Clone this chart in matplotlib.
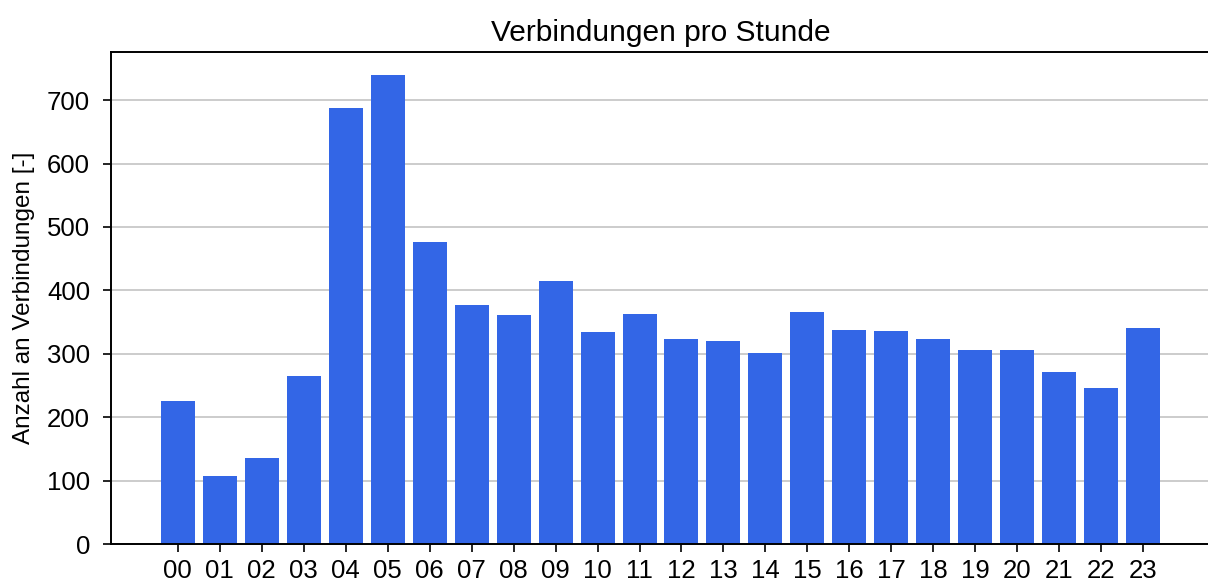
import matplotlib
matplotlib.use("Agg")
import numpy as np
import matplotlib.pyplot as plt

# ---------- data ----------
HOURS = [f"{h:02d}" for h in range(24)]
COUNTS = [226, 107, 136, 265, 688, 740, 477, 377, 361, 415, 334, 363,
          323, 320, 301, 366, 338, 336, 323, 306, 306, 271, 246, 341]
YTICKS = [0, 100, 200, 300, 400, 500, 600, 700]

BAR_COLOR = "#3366E6"
GRID_COLOR = "#C4C4C4"

plt.rcParams["font.family"] = ["Liberation Sans", "DejaVu Sans"]

W, H = 1208, 584
fig = plt.figure(figsize=(W / 100, H / 100), dpi=100)
# axes box in pixel coords: left 111, right ~1210 (just off canvas), top 52, bottom 544
ax = fig.add_axes([111 / W, (H - 544) / H, (1210 - 111) / W, (544 - 52) / H])

x = np.arange(len(HOURS))
ax.bar(x, COUNTS, width=0.81, color=BAR_COLOR, zorder=2)

ax.set_xlim(-1.59, len(HOURS) - 1 + 1.59)
ax.set_ylim(0, 776)
ax.set_xticks(x)
ax.set_xticklabels(HOURS)
ax.set_yticks(YTICKS)

ax.yaxis.grid(True, color=GRID_COLOR, linewidth=1.2, zorder=0)
ax.set_axisbelow(True)

for s in ax.spines.values():
    s.set_linewidth(1.4)
ax.tick_params(axis="both", labelsize=18.5, length=6, width=1.2, direction="out")
ax.tick_params(axis="y", pad=9)
ax.tick_params(axis="x", pad=5)

ax.set_title("Verbindungen pro Stunde", fontsize=21.5, pad=8)
ax.set_ylabel("Anzahl an Verbindungen [-]", fontsize=17.5, labelpad=9)

fig.savefig("out.png", dpi=100)
